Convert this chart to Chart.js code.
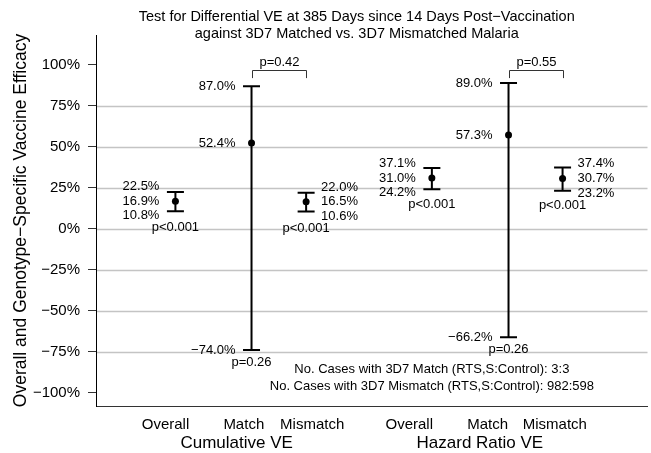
<!DOCTYPE html>
<html>
<head>
<meta charset="utf-8">
<script src="https://cdn.jsdelivr.net/npm/chart.js@4/dist/chart.umd.min.js"></script>
<style>
  html, body { margin: 0; padding: 0; background: #fff; }
  #wrap { width: 651px; height: 453px; }
</style>
</head>
<body>
<div id="wrap"><canvas id="chart" width="651" height="453"></canvas></div>
<script>
// Vaccine efficacy estimates (%) with 95% confidence limits
const groupNames = ['Cumulative VE', 'Hazard Ratio VE'];
const categories = ['Overall', 'Match', 'Mismatch', 'Overall', 'Match', 'Mismatch'];
const estimates = [16.9, 52.4, 16.5, 31.0, 57.3, 30.7];
const lowerCI = [10.8, -74.0, 10.6, 24.2, -66.2, 23.2];
const upperCI = [22.5, 87.0, 22.0, 37.1, 89.0, 37.4];
const pValues = ['p<0.001', 'p=0.26', 'p<0.001', 'p<0.001', 'p=0.26', 'p<0.001'];
const diffPValues = ['p=0.42', 'p=0.55'];
const caseNotes = [
  'No. Cases with 3D7 Match (RTS,S:Control): 3:3',
  'No. Cases with 3D7 Mismatch (RTS,S:Control): 982:598'
];
const yTicks = [-100, -75, -50, -25, 0, 25, 50, 75, 100];
const gridValues = [-75, -50, -25, 0, 25, 50, 75];
const titleLines = [
  'Test for Differential VE at 385 Days since 14 Days Post\u2212Vaccination',
  'against 3D7 Matched vs. 3D7 Mismatched Malaria'
];
const yTitle = 'Overall and Genotype\u2212Specific Vaccine Efficacy';

// horizontal locations on the 0-10 x scale
const xPoints = [1.44, 2.82, 3.81, 6.09, 7.48, 8.46];
const xLabelAt = [1.26, 2.68, 3.92, 5.68, 7.10, 8.32];
const xGroupAt = [2.55, 6.96];

const FONT = '"Liberation Sans", Arial, Helvetica, sans-serif';
Chart.defaults.font.family = FONT;
Chart.defaults.color = '#000';

const pct = v => v.toFixed(1).replace('-', '\u2212') + '%';

// light horizontal reference lines inside the plot
const refLines = {
  id: 'refLines',
  beforeDatasetsDraw(chart) {
    const { ctx, chartArea, scales: { y } } = chart;
    ctx.save();
    ctx.strokeStyle = '#c4c4c4';
    ctx.lineWidth = 1.3;
    gridValues.forEach(v => {
      const py = Math.round(y.getPixelForValue(v)) + 0.5;
      ctx.beginPath();
      ctx.moveTo(chartArea.left + 1, py);
      ctx.lineTo(chartArea.right, py);
      ctx.stroke();
    });
    ctx.restore();
  }
};

// vertical interval lines with end caps
const errorBars = {
  id: 'errorBars',
  beforeDatasetsDraw(chart) {
    const { ctx, scales: { x, y } } = chart;
    ctx.save();
    ctx.strokeStyle = '#000';
    ctx.lineWidth = 2;
    const half = 8.5;
    xPoints.forEach((xv, i) => {
      const px = x.getPixelForValue(xv);
      const top = y.getPixelForValue(upperCI[i]);
      const bot = y.getPixelForValue(lowerCI[i]);
      ctx.beginPath();
      ctx.moveTo(px, top); ctx.lineTo(px, bot);
      ctx.moveTo(px - half, top); ctx.lineTo(px + half, top);
      ctx.moveTo(px - half, bot); ctx.lineTo(px + half, bot);
      ctx.stroke();
    });
    ctx.restore();
  }
};

// value labels, p-values, comparison brackets, notes and titles
const annotations = {
  id: 'annotations',
  afterDraw(chart) {
    const { ctx, chartArea, scales: { x, y } } = chart;
    ctx.save();
    ctx.fillStyle = '#000';
    ctx.textBaseline = 'middle';

    ctx.font = '13px ' + FONT;
    xPoints.forEach((xv, i) => {
      const px = x.getPixelForValue(xv);
      const right = categories[i] === 'Mismatch';
      ctx.textAlign = right ? 'left' : 'right';
      const lx = right ? px + 15 : px - 16;
      const upY = Math.max(upperCI[i], estimates[i] + 9);
      const loY = Math.min(lowerCI[i], estimates[i] - 9);
      ctx.fillText(pct(upperCI[i]), lx, y.getPixelForValue(upY));
      ctx.fillText(pct(estimates[i]), lx, y.getPixelForValue(estimates[i]));
      ctx.fillText(pct(lowerCI[i]), lx, y.getPixelForValue(loY));
      ctx.textAlign = 'center';
      ctx.fillText(pValues[i], px, y.getPixelForValue(loY) + 12);
    });

    // brackets between Match and Mismatch
    ctx.strokeStyle = '#333';
    ctx.lineWidth = 1;
    [[1, 2], [4, 5]].forEach(([a, b], k) => {
      const xa = Math.round(x.getPixelForValue(xPoints[a])) + 0.5;
      const xb = Math.round(x.getPixelForValue(xPoints[b])) + 0.5;
      const yt = Math.round(y.getPixelForValue(97)) + 0.5;
      const yb = y.getPixelForValue(92);
      ctx.beginPath();
      ctx.moveTo(xa, yb); ctx.lineTo(xa, yt); ctx.lineTo(xb, yt); ctx.lineTo(xb, yb);
      ctx.stroke();
      ctx.textAlign = 'center';
      ctx.fillText(diffPValues[k], (xa + xb) / 2, yt - 8);
    });

    // case counts
    ctx.textAlign = 'center';
    const nx = x.getPixelForValue(xPoints[3]);
    ctx.fillText(caseNotes[0], nx, y.getPixelForValue(-86));
    ctx.fillText(caseNotes[1], nx, y.getPixelForValue(-96));

    // group labels below the category labels
    ctx.font = '17px ' + FONT;
    xGroupAt.forEach((gx, k) => {
      ctx.fillText(groupNames[k], x.getPixelForValue(gx), chartArea.bottom + 37);
    });

    // chart title
    ctx.font = '14.5px ' + FONT;
    const cx = (chartArea.left + chartArea.right) / 2 - 15;
    ctx.fillText(titleLines[0], cx, 17);
    ctx.fillText(titleLines[1], cx, 34);
    ctx.restore();
  }
};

new Chart(document.getElementById('chart'), {
  type: 'scatter',
  data: {
    datasets: [{
      data: estimates.map((v, i) => ({ x: xPoints[i], y: v })),
      pointRadius: 3.5,
      pointHoverRadius: 3.5,
      pointBackgroundColor: '#000',
      pointBorderColor: '#000',
      pointBorderWidth: 0
    }]
  },
  options: {
    responsive: false,
    animation: false,
    events: [],
    layout: { padding: { top: 35, right: 0, left: 0, bottom: 0 } },
    plugins: {
      legend: { display: false },
      tooltip: { enabled: false },
      title: { display: false }
    },
    scales: {
      x: {
        type: 'linear',
        min: 0,
        max: 10,
        afterBuildTicks: s => { s.ticks = xLabelAt.map(v => ({ value: v })); },
        afterFit: s => { s.height = 47; },
        ticks: {
          callback: (v, i) => categories[i],
          font: { size: 15 },
          padding: 10,
          maxRotation: 0,
          autoSkip: false
        },
        grid: { display: true, drawOnChartArea: false, drawTicks: false },
        border: { display: true, color: '#333', width: 1 }
      },
      y: {
        min: -108.1,
        max: 118.3,
        afterBuildTicks: s => { s.ticks = yTicks.map(v => ({ value: v })); },
        afterFit: s => { s.width = 96; },
        ticks: {
          callback: v => (v < 0 ? '\u2212' : '') + Math.abs(v) + '%',
          font: { size: 15 },
          padding: 8
        },
        grid: {
          drawOnChartArea: false,
          color: '#333',
          tickColor: '#333',
          tickLength: 8,
          lineWidth: 1
        },
        border: { display: true, color: '#000', width: 1 },
        title: {
          display: true,
          text: yTitle,
          font: { size: 17.5 },
          padding: { top: 11, bottom: 0 }
        }
      }
    }
  },
  plugins: [refLines, errorBars, annotations]
});
</script>
</body>
</html>
